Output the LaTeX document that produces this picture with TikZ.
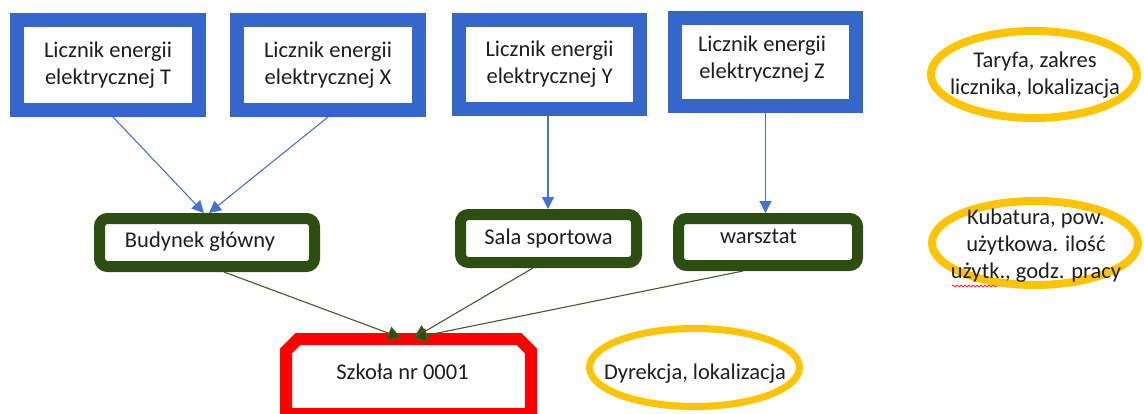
\documentclass[tikz,border=0pt]{standalone}
\usepackage{fontspec}
\setmainfont{Carlito}
\usetikzlibrary{arrows.meta,shapes.geometric,decorations.pathmorphing,calc}
\definecolor{mblue}{RGB}{52,102,204}
\definecolor{ablue}{RGB}{68,114,210}
\definecolor{dgreen}{RGB}{44,78,16}
\definecolor{agreen}{RGB}{60,95,40}
\definecolor{gold}{RGB}{255,196,0}
\definecolor{txt}{RGB}{30,30,30}
\tikzset{
  meter/.style={draw=mblue, line width=14pt, fill=white, inner sep=0pt, align=center},
  building/.style={draw=dgreen, line width=11pt, rounded corners=8pt, fill=white, inner sep=0pt},
  schoolframe/.style={draw=red, line width=12pt, fill=white, line join=miter},
  note/.style={ellipse, draw=gold, line width=8pt, inner sep=0pt},
  label/.style={inner sep=0pt, align=center},
  barrow/.style={draw=ablue, line width=1.1pt, -{Triangle[length=12pt,width=12pt]}},
  garrow/.style={draw=agreen, line width=1.1pt, -{Triangle[length=13pt,width=14pt,fill=dgreen]}},
}
\begin{document}
\begin{tikzpicture}[x=1pt,y=-1pt, font=\fontsize{22.5}{27}\selectfont, text=txt]
\useasboundingbox (0,0) rectangle (1144,413);
\clip (0,0) rectangle (1144,413);

% meters
\node[meter, minimum width=182pt, minimum height=90pt] (T) at (108,65) {Licznik energii\\elektrycznej T};
\node[meter, minimum width=182pt, minimum height=90pt] (X) at (328,65) {Licznik energii\\elektrycznej X};
\node[meter, minimum width=181pt, minimum height=89pt] (Y) at (549.5,64.5) {Licznik energii\\elektrycznej Y};
\node[meter, minimum width=181pt, minimum height=88pt] (Z) at (765.5,62) {};
\node[label] (Zt) at (762,59) {Licznik energii\\elektrycznej Z};

% buildings
\node[building, minimum width=215pt, minimum height=48pt] (B) at (207,242.5) {};
\node[label] (Bt) at (200,242) {Budynek główny};
\node[building, minimum width=176pt, minimum height=48pt] (Sa) at (548.5,238.5) {Sala sportowa};
\node[building, minimum width=179pt, minimum height=47pt] (W) at (768,242) {};
\node[label] (Wt) at (758.5,236) {warsztat};

% school
\draw[schoolframe] (286,414) -- (286,351) -- (298,339) -- (519,339) -- (531,351) -- (531,414) -- cycle;
\node[inner sep=0pt, minimum width=257pt, minimum height=87pt] (S) at (408.5,376.5) {};
\node[label] (St) at (402.5,372) {Szkoła nr 0001};

% notes
\node[note, minimum width=206pt, minimum height=87pt] (N1) at (1034,74.5) {};
\node[label] (N1t) at (1035,75) {Taryfa, zakres\\licznika, lokalizacja};
\node[note, minimum width=206pt, minimum height=84pt] (N2) at (1035,243) {};
\node[label] (N2t) at (1036,246) {Kubatura, pow.\\użytkowa. ilość\\użytk., godz. pracy};
\draw[red, line width=0.7pt, decorate, decoration={snake, amplitude=1pt, segment length=4pt}] (952,286) -- (997,286);
\node[note, line width=7pt, minimum width=210pt, minimum height=78pt] (N3) at (694.5,367.5) {};
\node[label] (N3t) at (695,374) {Dyrekcja, lokalizacja};

% connectors
\draw[barrow] ($(T.south)+(5,0)$) -- ($(B.north)+(-3,0)$);
\draw[barrow] (X.south) -- ($(B.north)+(2,0)$);
\draw[barrow] ($(Y.south)+(-1.5,0)$) -- ($(Sa.north)+(-0.5,0)$);
\draw[barrow] (Z.south) -- (Z.south |- W.north);

\draw[garrow] ($(B.south)+(17,0)$) -- ($(S.north)+(-7.5,5)$);
\draw[garrow] ($(Sa.south)+(-15.5,0)$) -- ($(S.north)+(5.5,5)$);
\draw[garrow] ($(W.south)+(-25,0)$) -- ($(S.north)+(5.5,5)$);
\end{tikzpicture}
\end{document}
